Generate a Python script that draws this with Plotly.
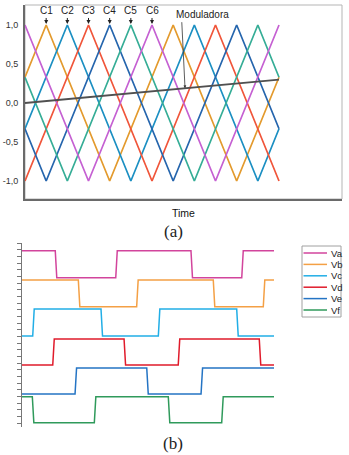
import numpy as np
import plotly.graph_objects as go

W, H = 349, 455

# ---------------- Panel (a) data: carriers and modulator ----------------
CARRIER_NAMES = ["C1", "C2", "C3", "C4", "C5", "C6"]
CARRIER_PEAKS = [1/6, 2/6, 3/6, 4/6, 5/6, 1.0]   # peak positions labelled by arrows
C1_T = [0, 1/6, 4/6, 7/6, 10/6, 2];  C1_V = [0.33, 1, -1, 1, -1, 0.33]
C2_T = [0, 2/6, 5/6, 8/6, 11/6, 2];  C2_V = [-0.33, 1, -1, 1, -1, -0.33]
C3_T = [0, 0.5, 1.0, 1.5, 2];        C3_V = [-1, 1, -1, 1, -1]
C4_T = [0, 1/6, 4/6, 7/6, 10/6, 2];  C4_V = [-0.33, -1, 1, -1, 1, -0.33]
C5_T = [0, 2/6, 5/6, 8/6, 11/6, 2];  C5_V = [0.33, -1, 1, -1, 1, 0.33]
C6_T = [0, 0.5, 1.0, 1.5, 2];        C6_V = [1, -1, 1, -1, 1]
MOD_T = [0, 2]
MOD_V = [0.0, 0.30]
YTICK_VALS = [1.0, 0.5, 0.0, -0.5, -1.0]
YTICK_TEXT = ["1,0", "0,5", "0,0", "-0,5", "-1,0"]

# ---------------- Panel (b) data: gate signals ----------------
SIG_NAMES = ["Va", "Vb", "Vc", "Vd", "Ve", "Vf"]
SIG_START_HIGH = [True, True, False, False, False, True]
SIG_EDGES = [
    [0.264, 0.744, 1.341, 1.744],
    [0.447, 0.910, 1.518, 1.915],
    [0.085, 0.627, 1.082, 1.704],
    [0.244, 0.810, 1.240, 1.883],
    [0.421, 0.990, 1.421],
    [0.082, 0.574, 1.161, 1.585],
]
SIG_HIGH = [25.85, 21.45, 17.1, 12.6, 8.25, 3.95]
SIG_LOW = [21.8, 17.45, 13.05, 8.7, 4.35, 0.05]

# ---------------- styling ----------------
CAR_COLORS = ["#e39a2d", "#1b8fc2", "#f0553a", "#2565ad", "#35ad96", "#c560d2"]
SIG_COLORS = ["#d2449c", "#f4a045", "#22aee6", "#e01b2b", "#2474c4", "#2f9a5b"]
SANS = "Liberation Sans, Arial, sans-serif"
SERIF = "Liberation Serif, Times New Roman, serif"
EDGE = 0.012

def px_x(x):
    return x / W

def px_y(y):
    return 1 - y / H

fig = go.Figure()

carriers = [(C1_T, C1_V), (C2_T, C2_V), (C3_T, C3_V), (C4_T, C4_V), (C5_T, C5_V), (C6_T, C6_V)]
for (t, v), name, col in zip(carriers, CARRIER_NAMES, CAR_COLORS):
    fig.add_trace(go.Scatter(x=t, y=v, mode="lines", name=name,
                             line=dict(color=col, width=1.7), showlegend=False,
                             xaxis="x", yaxis="y"))
fig.add_trace(go.Scatter(x=MOD_T, y=MOD_V, mode="lines", name="Moduladora",
                         line=dict(color="#505050", width=1.8), showlegend=False,
                         xaxis="x", yaxis="y"))

for name, hi0, edges, hi, lo, col in zip(SIG_NAMES, SIG_START_HIGH, SIG_EDGES,
                                         SIG_HIGH, SIG_LOW, SIG_COLORS):
    state = hi0
    xs, ys = [0.0], [hi if state else lo]
    for e in edges:
        xs.append(e); ys.append(hi if state else lo)
        state = not state
        xs.append(e + EDGE); ys.append(hi if state else lo)
    xs.append(2.0); ys.append(hi if state else lo)
    fig.add_trace(go.Scatter(x=xs, y=ys, mode="lines", name=name,
                             line=dict(color=col, width=1.5), showlegend=False,
                             xaxis="x2", yaxis="y2"))

annotations = []
for name, pk in zip(CARRIER_NAMES, CARRIER_PEAKS):
    annotations.append(dict(x=pk, y=1.0, xref="x", yref="y", text=name,
                            showarrow=True, ax=0, ay=-14, arrowhead=2, arrowsize=0.8,
                            arrowwidth=1, arrowcolor="#222", standoff=1,
                            font=dict(family=SANS, size=10, color="#222")))
# Moduladora label + arrow
arr_t = 1.26
annotations.append(dict(x=arr_t, y=float(np.interp(arr_t, MOD_T, MOD_V)), xref="x", yref="y",
                        ax=1.234, ay=1.055, axref="x", ayref="y", text="",
                        showarrow=True, arrowhead=2, arrowsize=0.7, arrowwidth=0.8,
                        arrowcolor="#333"))
annotations.append(dict(x=1.40, y=1.128, xref="x", yref="y", text="Moduladora",
                        xanchor="center", yanchor="middle",
                        showarrow=False, font=dict(family=SANS, size=10, color="#222")))
annotations.append(dict(x=px_x(183.5), y=px_y(213), xref="paper", yref="paper", text="Time",
                        xanchor="center", yanchor="middle",
                        showarrow=False, font=dict(family=SANS, size=10.5, color="#111")))
annotations.append(dict(x=px_x(173), y=px_y(232), xref="paper", yref="paper", text="(a)",
                        xanchor="center", yanchor="middle",
                        showarrow=False, font=dict(family=SERIF, size=17, color="#222")))
annotations.append(dict(x=px_x(173), y=px_y(443), xref="paper", yref="paper", text="(b)",
                        xanchor="center", yanchor="middle",
                        showarrow=False, font=dict(family=SERIF, size=17, color="#222")))

shapes = [dict(type="rect", xref="paper", yref="paper",
               x0=px_x(25), x1=px_x(342), y0=px_y(199), y1=px_y(5),
               line=dict(color="#b5b5b5", width=1), layer="below")]

# custom legend for panel (b)
shapes.append(dict(type="rect", xref="paper", yref="paper",
                   x0=px_x(302), x1=px_x(341), y0=px_y(317), y1=px_y(246),
                   line=dict(color="#a0a0a0", width=1)))
for i, (name, col) in enumerate(zip(SIG_NAMES, SIG_COLORS)):
    yy = 253 + i * 11.4
    shapes.append(dict(type="line", xref="paper", yref="paper",
                       x0=px_x(303.5), x1=px_x(327), y0=px_y(yy), y1=px_y(yy),
                       line=dict(color=col, width=1.5)))
    annotations.append(dict(x=px_x(328.5), y=px_y(yy), xref="paper", yref="paper",
                            text=name, showarrow=False, xanchor="left", yanchor="middle",
                            font=dict(family=SANS, size=9.5, color="#222")))

fig.update_layout(
    width=W, height=H,
    margin=dict(l=0, r=0, t=0, b=0),
    paper_bgcolor="white", plot_bgcolor="white",
    showlegend=False,
    hovermode=False,
    xaxis=dict(domain=[px_x(25), px_x(342)], range=[0, 2.496], showline=True,
               linecolor="#6a6a6a", linewidth=2, showticklabels=False, ticks="",
               showgrid=False, zeroline=False, anchor="y"),
    yaxis=dict(domain=[px_y(199), px_y(5)], range=[-1.231, 1.256], showline=True,
               linecolor="#6a6a6a", linewidth=2, tickvals=YTICK_VALS, ticktext=YTICK_TEXT,
               ticks="", ticklabelstandoff=3, showgrid=False, zeroline=False, anchor="x",
               tickfont=dict(family=SANS, size=9, color="#333")),
    xaxis2=dict(domain=[px_x(22), px_x(274)], range=[0, 2.0], visible=False, anchor="y2"),
    yaxis2=dict(domain=[px_y(427), px_y(243)], range=[-0.6, 27.0], showline=True,
                linecolor="#777", linewidth=1, ticks="outside", ticklen=4, tickcolor="#777",
                tick0=0, dtick=1, showticklabels=False, showgrid=False, zeroline=False,
                anchor="x2"),
    annotations=annotations,
    shapes=shapes,
)

fig.write_html("out.html", config={"displayModeBar": False, "staticPlot": True},
               post_script="document.body.style.margin='0px';document.body.style.overflow='hidden';")
